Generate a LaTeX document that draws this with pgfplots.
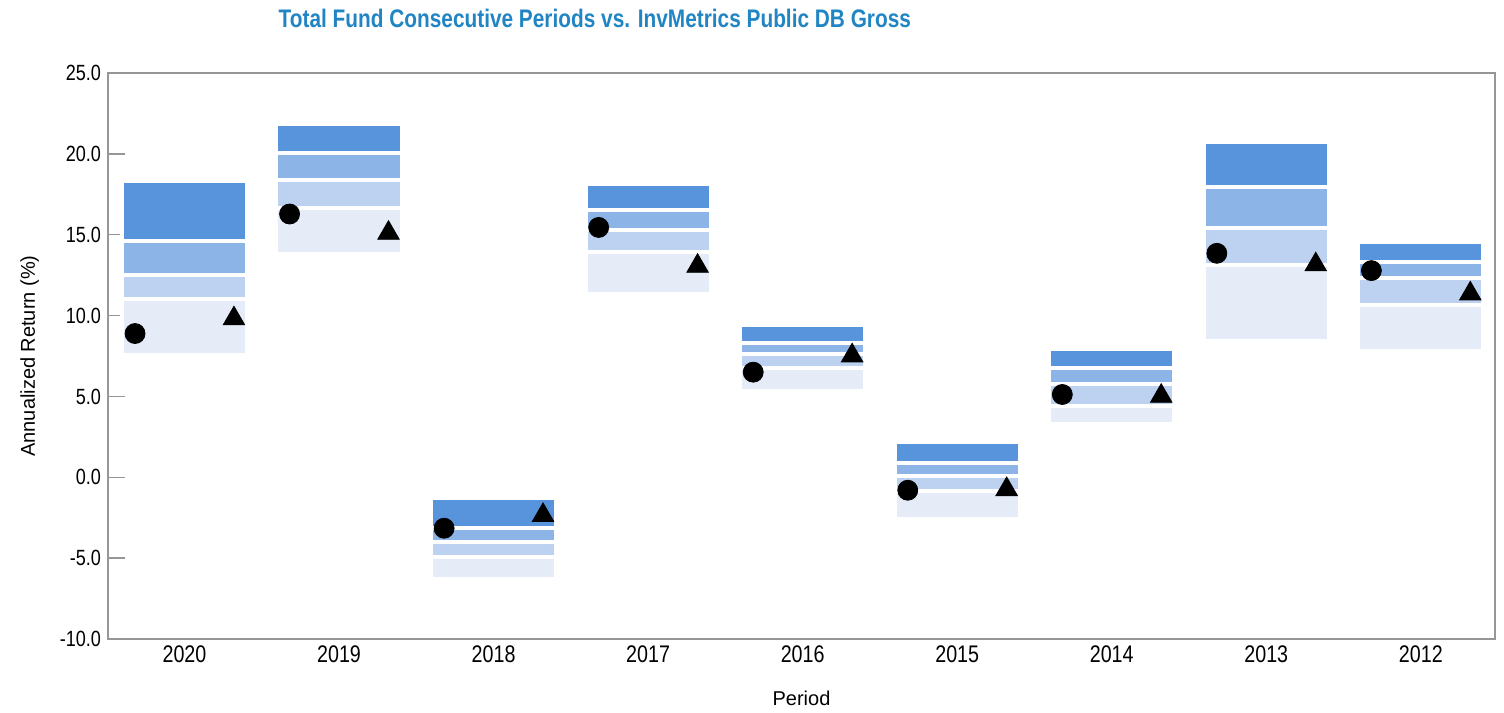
\documentclass[border=0pt]{standalone}
\usepackage{fontspec}
\setmainfont{Liberation Sans}
\newfontfamily\narrowfont{Liberation Sans}[FakeStretch=0.82]
\usepackage{pgfplots}
\usepackage{pgfplotstable}
\pgfplotsset{compat=1.18}

\definecolor{bandA}{RGB}{88,148,220}
\definecolor{bandB}{RGB}{141,180,230}
\definecolor{bandC}{RGB}{188,210,240}
\definecolor{bandD}{RGB}{229,236,247}
\definecolor{titleblue}{RGB}{33,133,196}
\definecolor{axisgray}{RGB}{150,150,150}

% percentile bands (5th, 25th, median, 75th, 95th), fund return, median marker
\pgfplotstableread{
x p5 p25 p50 p75 p95 fund med
0 7.55 11.03 12.48 14.62 18.35 8.89 9.81
1 13.80 16.67 18.38 20.07 21.85 16.28 15.10
2 -6.30 -4.90 -4.02 -3.15 -1.30 -3.15 -2.35
3 11.32 13.92 15.28 16.51 18.14 15.45 13.06
4 5.36 6.78 7.63 8.31 9.40 6.50 7.52
5 -2.55 -0.83 0.05 0.88 2.20 -0.80 -0.75
6 3.30 4.40 5.75 6.75 7.92 5.12 5.02
7 8.45 13.15 15.43 17.95 20.76 13.85 13.15
8 7.83 10.63 12.30 13.30 14.55 12.78 11.35
}\bands

\pgfplotsset{
  common/.style={
    at={(0,0)}, anchor=south west,
    scale only axis,
    width=693.5pt, height=283pt,
    xmin=-0.495, xmax=8.48,
    ymin=-10, ymax=25,
  }
}

\begin{document}
\begin{tikzpicture}
\useasboundingbox (-54pt,-36.5pt) rectangle (698pt,319.5pt);
\begin{axis}[
  common,
  ybar stacked,
  stack negative=on previous,
  bar width=0.81,
  axis line style={draw=axisgray, line width=0.9pt},
  xtick={0,...,8},
  xticklabels={2020,2019,2018,2017,2016,2015,2014,2013,2012},
  xtick style={draw=none},
  ytick={-10,-5,...,25},
  ytick pos=left,
  ytick style={draw=axisgray, line width=0.7pt},
  major tick length=8.5pt,
  yticklabel style={font=\narrowfont\fontsize{11}{13}\selectfont,
    /pgf/number format/fixed, /pgf/number format/fixed zerofill,
    /pgf/number format/precision=1, /pgf/number format/assume math mode=true},
  xticklabel style={font=\narrowfont\fontsize{12}{14}\selectfont},
  title={Total Fund Consecutive Periods vs. InvMetrics Public DB Gross},
  every axis title shift=0pt,
  title style={at={(axis description cs:0.351,1.097)}, anchor=center,
    font=\narrowfont\bfseries\fontsize{12.7}{14}\selectfont, text=titleblue},
  xlabel={Period},
  ylabel={Annualized Return (\%)},
  every axis x label/.style={at={(axis description cs:0.5,-0.1042)}, anchor=center, font=\fontsize{10}{12}\selectfont},
  every axis y label/.style={at={(axis description cs:-0.0565,0.5)}, rotate=90, anchor=center, font=\fontsize{10}{12}\selectfont},
  every axis plot/.append style={draw=white, line width=2pt},
]
\addplot[draw=none, fill=none] table[x=x, y=p5]{\bands};
\addplot[fill=bandD] table[x=x, y expr=\thisrow{p25}-\thisrow{p5}]{\bands};
\addplot[fill=bandC] table[x=x, y expr=\thisrow{p50}-\thisrow{p25}]{\bands};
\addplot[fill=bandB] table[x=x, y expr=\thisrow{p75}-\thisrow{p50}]{\bands};
\addplot[fill=bandA] table[x=x, y expr=\thisrow{p95}-\thisrow{p75}]{\bands};
\end{axis}
\begin{axis}[
  common,
  hide axis,
  clip=false,
]
\addplot[only marks, mark=*, mark size=5pt, black] table[x expr=\thisrow{x}-0.32, y=fund]{\bands};
\addplot[only marks, mark=triangle*, mark size=6.2pt, black] table[x expr=\thisrow{x}+0.32, y=med]{\bands};
\end{axis}
\end{tikzpicture}
\end{document}
